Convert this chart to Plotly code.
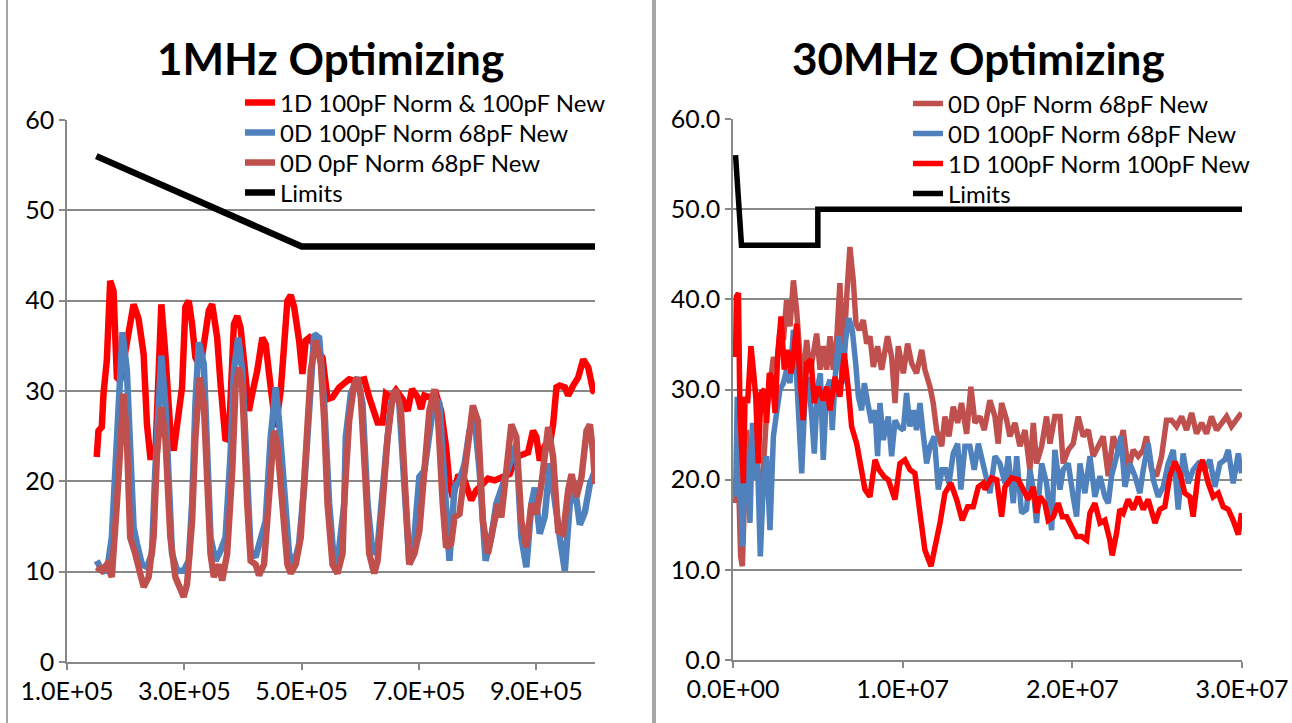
import plotly.graph_objects as go

# ---------------- Left chart: 1MHz Optimizing (x in kHz, y in dB) ----------------
l_red_f = [150.7,153.6,159.3,162.2,167.9,173.6,179.3,185.0,190.7,199.2,213.5,222.0,230.6,236.3,242.0,250.5,256.2,260.8,267.6,276.2,
           281.9,290.4,296.1,301.8,307.5,313.2,318.9,327.5,336.0,341.7,347.4,356.0,361.7,370.2,375.9,384.5,390.2,395.9,401.6,410.1,
           415.8,424.4,432.9,438.6,447.2,455.7,464.3,470.0,475.7,481.4,487.1,495.6,501.3,507.0,512.7,524.1,535.5,544.1,552.6,564.0,
           575.4,580.9,592.3,606.6,615.1,623.7,629.4,637.9,643.6,652.2,660.7,672.1,680.7,688.1,697.8,703.5,709.2,717.7,729.1,737.7,
           746.2,751.9,757.6,766.2,774.7,783.3,789.0,797.5,808.9,817.5,828.9,843.1,854.5,865.9,877.3,885.9,894.4,900.1,905.8,914.4,
           922.9,928.6,934.3,940.0,948.6,954.3,962.8,971.4,979.9,988.5,997.0,1000.0]
l_red_v = [22.7,25.6,26.0,29.7,33.4,42.2,41.1,31.5,31.1,34.1,39.6,38.0,34.1,26.3,22.7,22.7,30.4,39.6,34.1,25.6,
           23.4,27.8,30.4,39.3,40.0,37.4,33.7,32.6,35.9,38.9,39.6,35.9,30.8,24.5,24.9,37.4,38.3,37.0,33.4,27.8,
           29.7,32.3,35.9,35.2,30.4,26.0,30.0,35.9,40.0,40.6,39.3,35.6,31.9,35.6,35.9,34.8,33.7,29.1,29.3,30.4,
           31.0,31.3,31.1,31.3,29.3,27.8,26.5,26.5,29.7,29.3,30.1,29.1,27.8,30.2,29.3,28.0,29.5,29.3,29.7,27.8,
           23.8,19.7,18.2,20.5,20.7,19.0,17.9,19.0,19.7,20.3,20.1,20.5,20.8,22.7,22.9,23.2,25.6,24.9,22.3,23.9,
           24.1,26.3,30.4,30.6,30.4,29.5,30.6,31.5,33.5,32.6,30.0,29.9]

l_blue_f = [150.7,156.4,165.0,170.7,176.4,182.1,187.8,194.6,202.0,207.7,213.5,219.2,227.7,236.3,244.8,250.5,256.2,260.8,267.6,273.3,
            279.0,287.6,298.9,307.5,313.2,318.9,324.6,333.2,338.9,344.6,353.1,361.7,370.2,378.8,384.5,391.9,398.7,404.4,413.0,421.5,
            430.1,438.6,447.2,455.7,461.4,470.0,478.5,487.1,495.6,504.2,512.7,521.3,529.8,538.4,546.9,555.4,564.0,572.6,575.2,583.8,
            595.2,603.7,612.3,620.8,629.4,635.1,643.6,652.2,659.6,666.4,675.0,683.5,692.1,700.6,709.2,717.7,726.3,734.8,743.4,751.9,
            760.5,769.0,777.6,786.1,794.7,803.2,813.5,823.2,831.7,840.3,848.8,857.4,865.9,874.5,883.0,891.6,897.3,905.8,914.4,922.9,
            931.5,940.0,948.6,957.1,965.7,974.2,982.8,991.3,1000.0]
l_blue_v = [11.2,10.5,9.9,11.2,13.8,21.2,30.4,36.5,32.3,21.2,14.9,13.1,10.8,10.5,12.0,21.2,30.4,33.9,28.6,19.3,
            12.0,10.1,10.1,11.2,17.5,28.6,35.4,33.0,24.9,13.8,11.2,12.3,13.8,23.0,32.3,35.9,32.3,24.9,12.3,11.6,
            13.8,15.6,24.9,30.4,26.7,19.3,12.0,10.8,13.1,19.3,28.6,36.3,35.9,28.6,17.5,10.8,12.6,17.5,24.9,29.7,
            31.5,28.6,17.5,12.0,12.6,17.5,23.0,28.6,30.1,28.6,19.3,10.8,13.8,20.5,21.2,25.6,29.3,28.6,20.5,11.2,
            19.3,20.1,21.9,25.6,27.1,21.2,11.2,13.8,17.5,19.3,20.5,22.7,24.1,13.8,10.5,17.5,19.3,14.2,16.1,22.0,
            17.5,13.8,10.1,17.5,19.3,15.2,16.6,19.7,21.2]

l_dred_f = [150.7,159.3,167.9,176.4,185.0,192.4,196.4,202.0,207.7,216.3,224.8,230.6,239.1,247.6,253.4,260.8,267.6,276.2,284.7,293.2,
            298.9,304.6,313.2,318.9,326.3,333.2,338.9,344.6,350.3,358.8,364.5,373.0,381.6,387.3,393.0,398.7,407.2,413.0,421.5,427.2,
            435.8,444.3,452.8,458.5,467.1,475.7,481.4,489.9,498.5,507.0,515.6,524.1,532.7,538.4,544.1,552.6,561.1,569.7,572.4,580.9,
            589.5,595.2,600.9,609.4,615.1,623.7,629.4,637.9,646.5,655.0,660.7,669.3,677.8,683.5,692.1,700.6,709.2,717.7,726.3,732.0,
            740.5,746.2,754.8,760.5,769.0,777.6,786.1,791.8,800.4,808.9,817.5,826.0,834.6,840.3,848.8,857.4,865.9,874.5,883.0,891.6,
            900.1,908.7,920.1,928.6,937.2,945.7,954.3,960.0,968.5,977.0,985.6,991.3,997.0,1000.0]
l_dred_v = [10.5,10.1,10.8,9.4,17.5,26.7,29.7,24.9,13.8,12.0,10.1,8.3,9.4,13.8,23.0,28.2,24.9,13.8,9.4,7.9,
            7.2,8.6,15.6,24.9,31.5,28.6,21.2,12.0,9.4,10.8,9.0,12.0,21.2,30.4,32.6,30.4,17.5,11.2,10.8,9.6,
            10.8,17.5,25.6,24.1,17.5,10.8,9.8,10.8,13.8,23.0,32.3,35.6,33.0,26.7,17.5,10.8,9.8,12.0,17.5,26.7,
            30.8,31.5,29.3,19.3,12.0,9.8,11.2,17.5,24.9,29.3,30.2,27.8,17.5,10.8,12.0,14.5,21.2,27.8,30.2,27.5,
            17.5,12.7,13.1,16.0,16.4,21.2,26.7,28.4,26.7,15.6,12.0,14.5,17.5,16.0,21.2,26.3,24.9,15.6,12.7,17.5,
            16.4,19.7,26.0,22.7,14.5,14.2,19.0,20.8,18.3,20.5,25.6,26.3,23.0,19.7]

l_lim_f = [150, 500, 1000]
l_lim_v = [56, 46, 46]

# ---------------- Right chart: 30MHz Optimizing (x in MHz, y in dB) ----------------
r_dred_f = [0.15,0.3,0.45,0.55,0.65,0.8,0.95,1.10,1.40,1.69,1.98,2.18,2.38,2.57,2.77,2.97,3.16,3.36,3.56,3.75,
            3.95,4.14,4.34,4.54,4.73,4.93,5.13,5.32,5.52,5.72,5.91,6.11,6.30,6.50,6.70,6.89,7.09,7.25,7.44,7.68,
            7.88,8.07,8.27,8.52,8.76,9.11,9.35,9.55,9.74,10.04,10.29,10.53,10.82,11.12,11.31,11.61,11.80,12.00,12.30,12.49,
            12.73,12.98,13.24,13.47,13.77,14.02,14.26,14.55,14.81,14.95,15.14,15.44,15.63,15.83,16.13,16.32,16.62,16.91,17.21,17.50,
            17.70,17.89,18.19,18.48,18.68,18.97,19.27,19.46,19.76,20.05,20.35,20.64,20.94,21.23,21.53,21.82,22.12,22.41,22.71,23.00,
            23.29,23.59,23.88,24.18,24.37,24.67,24.96,25.26,25.55,25.85,26.14,26.44,26.73,27.03,27.32,27.62,27.91,28.20,28.50,28.79,
            29.09,29.38,29.68,29.97]
r_dred_v = [17.4,21.8,11.5,10.4,16.3,25.5,21.8,23.7,21.8,18.1,27.4,31.1,33.6,32.5,36.6,35.5,39.9,37.0,42.1,38.8,
            33.6,31.1,35.5,31.8,33.6,36.2,32.2,34.8,32.2,35.9,32.2,35.5,41.8,32.9,40.3,45.8,42.1,37.3,36.6,37.7,
            35.1,35.9,32.5,34.8,32.2,35.9,33.6,28.5,34.8,31.8,35.1,32.9,31.8,34.4,32.2,30.3,28.5,25.5,23.7,27.0,
            24.8,28.1,26.3,28.5,25.1,30.3,26.3,27.0,25.5,27.0,28.8,27.0,24.0,28.5,26.6,24.8,26.3,23.7,25.5,21.1,
            26.3,21.8,23.7,27.0,24.0,27.0,27.0,21.8,23.3,24.0,27.0,24.8,25.5,22.6,23.7,24.8,20.4,24.8,23.3,25.5,
            21.1,23.3,22.6,23.3,24.8,21.1,20.4,22.6,26.6,26.6,25.9,27.0,25.5,27.4,25.1,26.3,25.1,27.0,25.5,26.3,
            27.0,25.9,26.6,27.4]

r_blue_f = [0.15,0.25,0.4,0.55,0.7,0.85,1.0,1.15,1.3,1.45,1.61,1.79,1.98,2.18,2.38,2.57,2.77,2.97,3.16,3.36,
            3.56,3.75,3.89,4.05,4.24,4.44,4.64,4.79,4.99,5.15,5.32,5.52,5.72,5.85,6.05,6.25,6.44,6.64,6.83,7.03,
            7.23,7.39,7.58,7.74,7.94,8.17,8.37,8.52,8.66,8.86,9.15,9.35,9.55,9.74,10.04,10.23,10.43,10.63,10.82,11.02,
            11.21,11.41,11.61,11.86,12.10,12.33,12.53,12.73,12.98,13.24,13.43,13.67,13.96,14.22,14.46,14.75,14.85,15.14,15.44,15.73,
            16.03,16.22,16.52,16.72,17.01,17.30,17.50,17.70,17.89,18.19,18.48,18.78,18.97,19.27,19.46,19.76,20.05,20.25,20.45,20.74,
            21.04,21.33,21.63,21.92,22.12,22.31,22.61,22.86,23.10,23.39,23.69,23.98,24.18,24.47,24.77,25.06,25.36,25.65,25.95,26.24,
            26.53,26.83,27.12,27.42,27.81,28.11,28.40,28.70,28.99,29.19,29.48,29.78,29.97]
r_blue_v = [18.1,29.2,21.8,12.6,25.5,18.9,15.2,26.3,20.0,21.8,11.5,19.6,22.6,14.4,24.8,27.4,30.0,30.7,32.2,30.7,
            36.6,31.4,26.3,20.7,29.2,31.4,27.0,22.9,30.3,31.8,22.2,30.0,31.1,25.5,32.2,35.9,30.7,35.5,37.9,36.6,
            32.9,29.2,27.7,30.7,28.5,26.3,27.7,22.6,28.5,24.4,27.0,22.6,26.6,25.9,25.5,29.6,25.9,27.7,25.5,28.5,
            25.1,21.8,23.7,24.8,18.9,21.1,21.1,19.6,22.9,24.0,18.9,23.7,23.7,21.1,24.0,21.8,21.1,18.5,22.6,21.8,
            19.6,22.6,17.4,22.6,16.3,16.7,21.1,18.9,15.2,21.8,19.6,14.4,23.3,18.9,21.1,21.8,18.1,15.9,21.8,18.5,
            22.6,18.1,20.4,18.1,17.4,20.4,22.6,24.8,19.2,21.8,20.4,18.5,21.1,24.0,20.0,18.1,19.2,21.8,23.3,16.7,
            22.9,19.6,21.1,21.8,21.1,22.2,19.2,21.8,22.2,23.3,19.6,22.9,20.7]

r_red_f = [0.15,0.2,0.32,0.41,0.61,0.71,0.86,1.06,1.20,1.34,1.49,1.65,1.85,1.98,2.14,2.32,2.48,2.63,2.83,3.02,
           3.22,3.42,3.56,3.75,3.95,4.14,4.34,4.60,4.79,5.03,5.32,5.52,5.72,6.01,6.30,6.56,6.80,6.99,7.29,7.48,
           7.78,8.07,8.37,8.60,8.92,9.15,9.55,9.84,10.13,10.43,10.72,11.02,11.31,11.67,11.94,12.20,12.49,12.84,13.18,13.51,
           13.83,14.16,14.46,14.75,14.85,15.24,15.54,15.83,16.03,16.42,16.81,17.21,17.40,17.70,17.89,18.09,18.38,18.58,18.88,19.17,
           19.41,19.66,19.96,20.25,20.55,20.84,21.04,21.33,21.63,21.92,22.21,22.35,22.61,22.80,23.00,23.29,23.59,23.88,24.18,24.47,
           24.87,25.16,25.45,25.75,26.04,26.34,26.63,26.93,27.12,27.42,27.67,28.01,28.30,28.60,28.89,29.19,29.48,29.78,29.97]
r_red_v = [33.6,40.3,40.7,27.4,19.6,29.2,28.5,34.8,32.2,29.2,21.8,29.6,30.0,26.3,31.8,31.1,27.4,33.6,38.1,32.2,
           34.4,31.8,33.6,37.3,31.1,26.6,32.9,33.3,28.5,30.3,28.8,30.3,27.7,31.4,29.2,34.0,30.0,25.9,24.0,21.8,
           18.9,18.1,22.2,21.1,20.3,20.0,17.8,21.8,22.2,21.1,20.7,16.3,12.2,10.4,12.6,15.2,18.5,19.6,17.8,15.5,
           17.0,17.0,19.2,19.6,18.9,20.2,20.0,15.9,19.2,20.2,20.0,18.5,17.8,19.2,16.3,18.1,17.4,15.5,15.9,17.4,
           15.9,15.9,14.8,13.7,13.7,13.3,16.3,17.4,15.2,15.5,13.3,11.6,14.1,16.7,16.3,17.8,16.7,18.1,16.7,17.8,
           15.2,16.7,17.0,20.4,22.0,20.7,18.5,18.1,15.9,20.7,22.2,19.6,18.1,18.5,17.0,16.7,15.5,13.9,16.3]

r_lim_f = [0.15, 0.5, 5.0, 5.0, 30.0]
r_lim_v = [56, 46, 46, 50, 50]

# ---------------- Labels ----------------
titles = ["1MHz Optimizing", "30MHz Optimizing"]
l_names = ["1D 100pF Norm & 100pF New", "0D 100pF Norm 68pF New", "0D 0pF Norm 68pF New", "Limits"]
r_names = ["0D 0pF Norm 68pF New", "0D 100pF Norm 68pF New", "1D 100pF Norm 100pF New", "Limits"]
l_xticks = [1e5, 3e5, 5e5, 7e5, 9e5]
l_xtext = ["1.0E+05", "3.0E+05", "5.0E+05", "7.0E+05", "9.0E+05"]
r_xticks = [0, 1e7, 2e7, 3e7]
r_xtext = ["0.0E+00", "1.0E+07", "2.0E+07", "3.0E+07"]

RED = "#FF0000"
BLUE = "#4F81BD"
DRED = "#C0504D"
BLACK = "#000000"
GRID = "#888888"
FONT = "Lato, Carlito, Calibri, sans-serif"
W, H = 1292, 723

fig = go.Figure()

left_series = [(l_red_f, l_red_v, RED), (l_blue_f, l_blue_v, BLUE), (l_dred_f, l_dred_v, DRED), (l_lim_f, l_lim_v, BLACK)]
for i, ((f, v, c), name) in enumerate(zip(left_series, l_names)):
    lg = "legend" if i == 0 else "legend%d" % (i + 1)
    fig.add_trace(go.Scatter(x=[a * 1e3 for a in f], y=v, mode="lines", name=name,
                             line=dict(color=c, width=6.5), xaxis="x", yaxis="y", legend=lg))

right_series = [(r_dred_f, r_dred_v, DRED), (r_blue_f, r_blue_v, BLUE), (r_red_f, r_red_v, RED), (r_lim_f, r_lim_v, BLACK)]
for i, ((f, v, c), name) in enumerate(zip(right_series, r_names)):
    lg = "legend%d" % (i + 5)
    fig.add_trace(go.Scatter(x=[a * 1e6 for a in f], y=v, mode="lines", name=name,
                             line=dict(color=c, width=5.5), xaxis="x2", yaxis="y2", legend=lg))

axis_common = dict(showline=True, linecolor=GRID, linewidth=1.5, ticks="outside", ticklen=6,
                   tickcolor=GRID, tickwidth=1.5, tickfont=dict(family=FONT, size=25, color="black"),
                   zeroline=False, automargin=False)

legend_font = dict(family=FONT, size=24, color="black")
legends = {}
left_rows = [103, 133, 163, 193]
right_rows = [104, 134, 164, 194]
for i, yy in enumerate(left_rows):
    key = "legend" if i == 0 else "legend%d" % (i + 1)
    legends[key] = dict(x=240 / W, y=1 - yy / H, xanchor="left", yanchor="middle",
                        bgcolor="rgba(0,0,0,0)", font=legend_font, borderwidth=0)
for i, yy in enumerate(right_rows):
    key = "legend%d" % (i + 5)
    legends[key] = dict(x=908 / W, y=1 - yy / H, xanchor="left", yanchor="middle",
                        bgcolor="rgba(0,0,0,0)", font=legend_font, borderwidth=0)

fig.update_layout(
    width=W, height=H,
    margin=dict(l=0, r=0, t=0, b=0, autoexpand=False),
    paper_bgcolor="white", plot_bgcolor="white",
    font=dict(family=FONT, color="black"),
    xaxis=dict(domain=[67/W, 595/W], range=[1e5, 1e6], tickvals=l_xticks, ticktext=l_xtext,
               showgrid=False, anchor="y", **axis_common),
    yaxis=dict(domain=[61/H, 603/H], range=[0, 60], dtick=10, tickformat="d",
               showgrid=True, gridcolor=GRID, gridwidth=1.5, anchor="x", **axis_common),
    xaxis2=dict(domain=[733/W, 1242/W], range=[0, 3e7], tickvals=r_xticks, ticktext=r_xtext,
                showgrid=False, anchor="y2", **axis_common),
    yaxis2=dict(domain=[63/H, 604/H], range=[0, 60], dtick=10, tickformat=".1f",
                showgrid=True, gridcolor=GRID, gridwidth=1.5, anchor="x2", **axis_common),
    showlegend=True,
    **legends,
)

fig.add_annotation(text="<b>" + titles[0] + "</b>", xref="paper", yref="paper", x=330/W, y=1 - 58/H,
                   showarrow=False, font=dict(family=FONT, size=44, color="black"), xanchor="center", yanchor="middle")
fig.add_annotation(text="<b>" + titles[1] + "</b>", xref="paper", yref="paper", x=978/W, y=1 - 58/H,
                   showarrow=False, font=dict(family=FONT, size=44, color="black"), xanchor="center", yanchor="middle")

fig.add_shape(type="line", xref="paper", yref="paper", x0=7/W, x1=7/W, y0=0, y1=1,
              line=dict(color="#A6A6A6", width=2))
fig.add_shape(type="line", xref="paper", yref="paper", x0=654/W, x1=654/W, y0=0, y1=1,
              line=dict(color="#A6A6A6", width=4))

fig.write_html("out.html", config={"displayModeBar": False},
               post_script="document.body.style.margin='0';")
